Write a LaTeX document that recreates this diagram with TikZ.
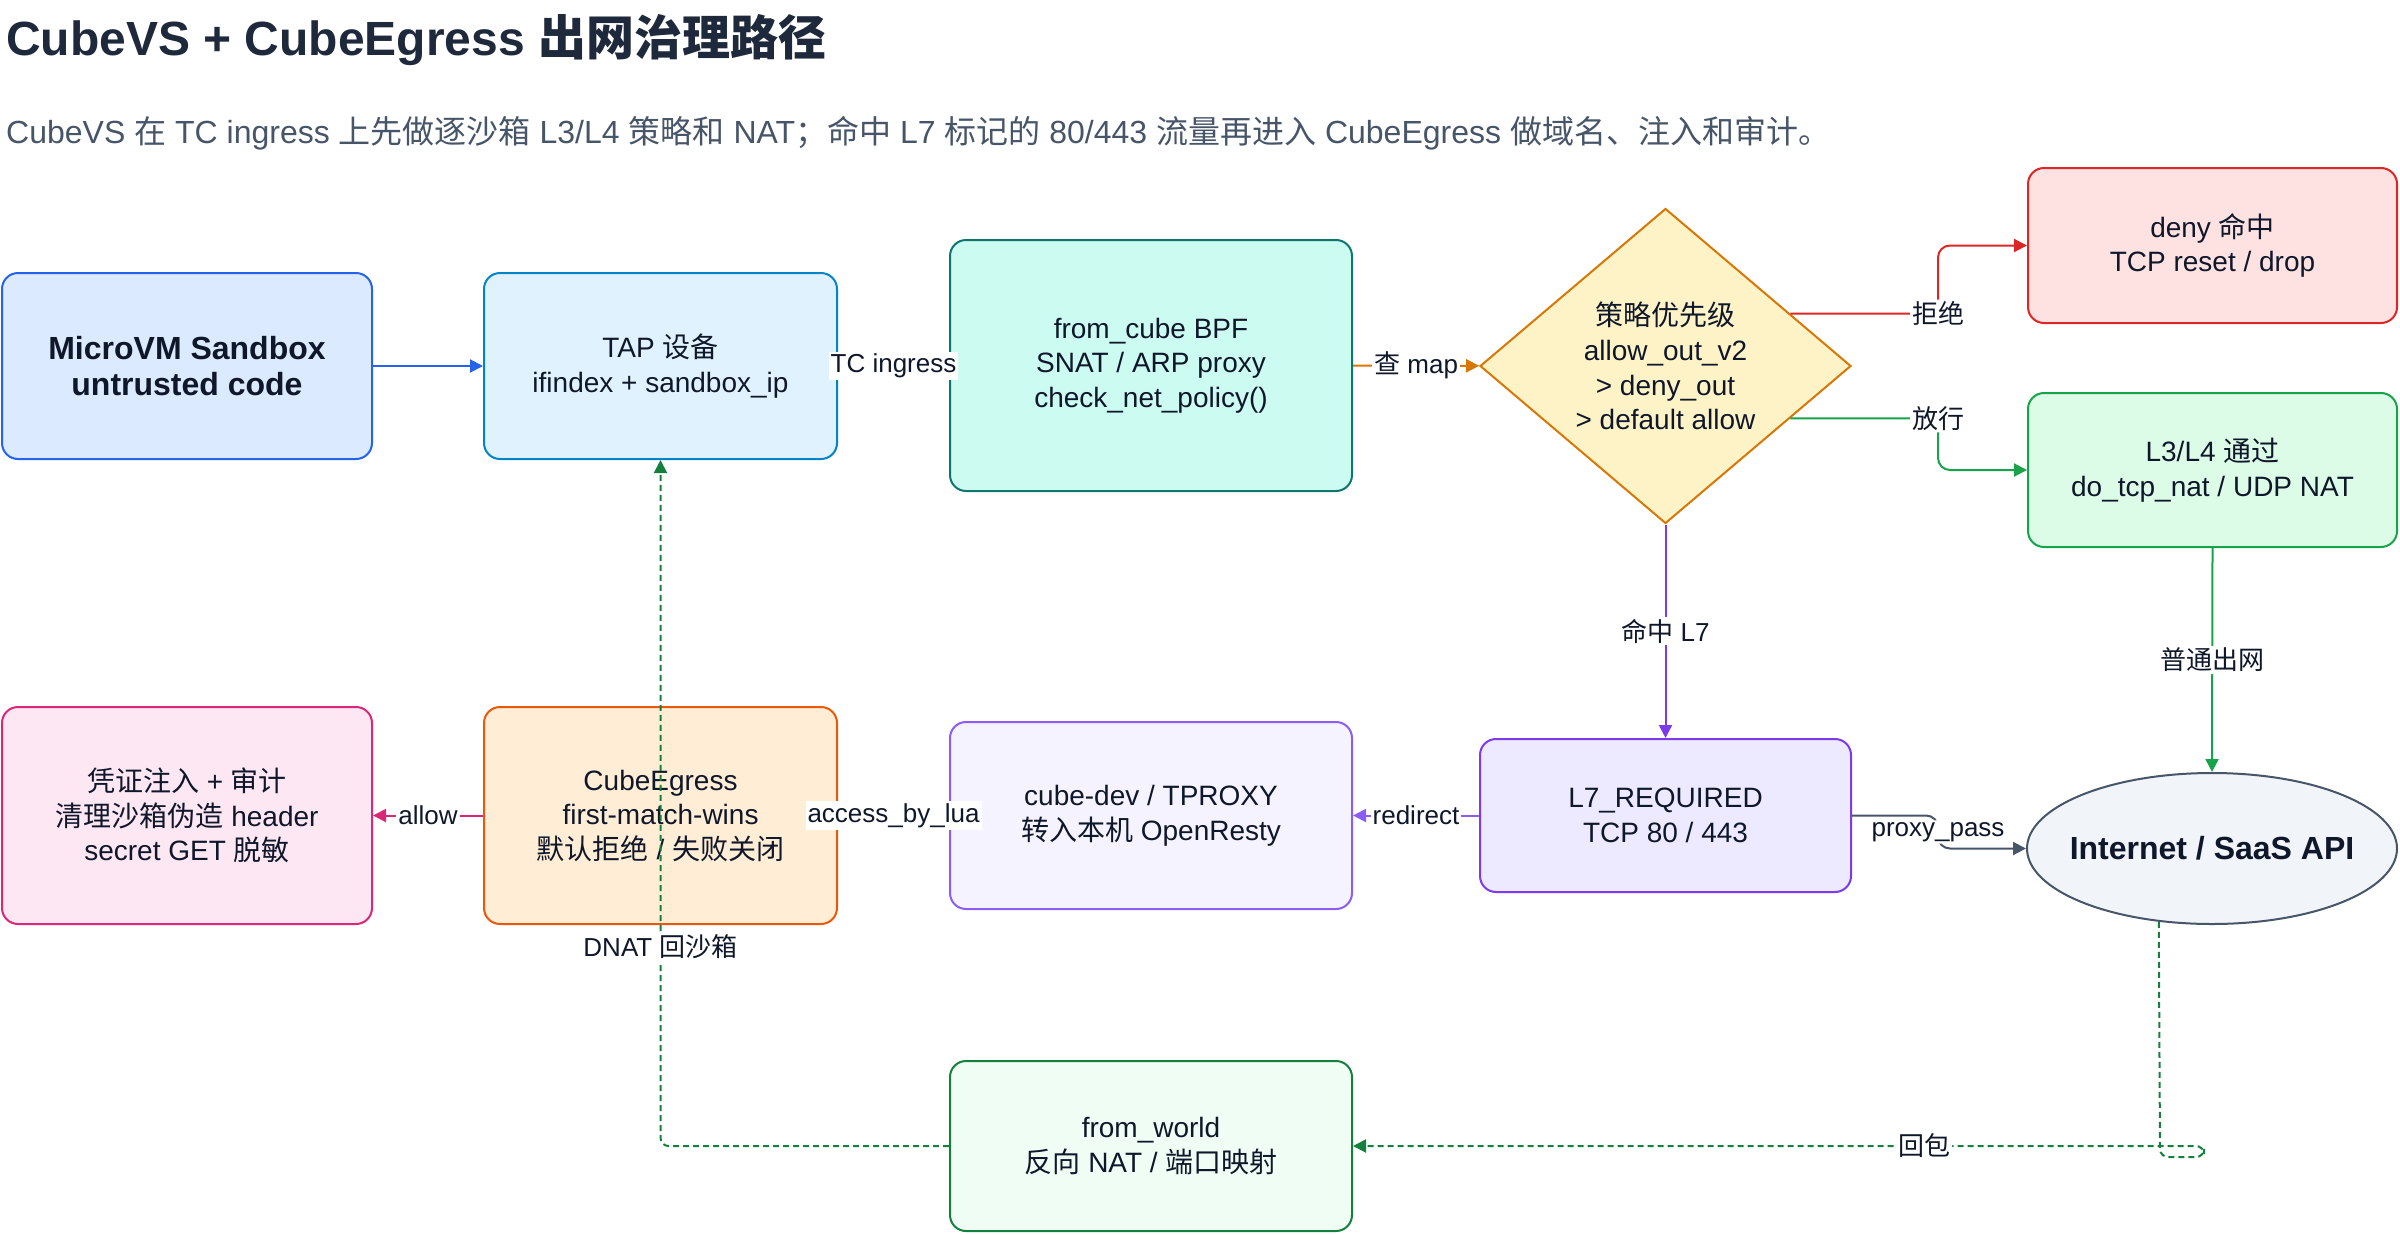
\documentclass[tikz,border=0pt]{standalone}
\usepackage{fontspec}
\setmainfont{Liberation Sans}
\newfontfamily\cjk{Noto Sans CJK SC}
\usetikzlibrary{shapes.geometric,arrows.meta,calc}
\newcommand\zhs[1]{{\cjk #1}}
\definecolor{ink}{HTML}{0F172A}
\definecolor{titlec}{HTML}{1E293B}
\definecolor{subc}{HTML}{475569}
\definecolor{microF}{HTML}{DBEAFE}\definecolor{microS}{HTML}{2563EB}
\definecolor{tapF}{HTML}{E0F2FE}\definecolor{tapS}{HTML}{0284C7}
\definecolor{cubeF}{HTML}{CCFBF1}\definecolor{cubeS}{HTML}{0F766E}
\definecolor{diaF}{HTML}{FEF3C7}\definecolor{diaS}{HTML}{D97706}
\definecolor{denyF}{HTML}{FEE2E2}\definecolor{denyS}{HTML}{DC2626}
\definecolor{passF}{HTML}{DCFCE7}\definecolor{passS}{HTML}{16A34A}
\definecolor{inetF}{HTML}{F1F5F9}\definecolor{inetS}{HTML}{475569}
\definecolor{lsevF}{HTML}{EDE9FE}\definecolor{lsevS}{HTML}{7C3AED}
\definecolor{devF}{HTML}{F5F3FF}\definecolor{devS}{HTML}{8B5CF6}
\definecolor{egF}{HTML}{FFEDD5}\definecolor{egS}{HTML}{EA580C}
\definecolor{credF}{HTML}{FCE7F3}\definecolor{credS}{HTML}{DB2777}
\definecolor{fwF}{HTML}{F0FDF4}\definecolor{fwS}{HTML}{15803D}
\tikzset{
  box/.style={rectangle, rounded corners=16pt, line width=2pt, align=center, text=ink, inner sep=0pt,
    font=\fontsize{28}{34.5}\selectfont},
  boldbox/.style={box, font=\fontsize{32}{36.7}\selectfont\bfseries},
  ed/.style={line width=2pt, -{Triangle[length=13pt,width=13pt]}},
  ret/.style={ed, draw=fwS, dash pattern=on 6pt off 4pt, rounded corners=8pt},
  lbl/.style={fill=white, inner sep=2pt, text=ink, font=\fontsize{26}{30}\selectfont},
}
\begin{document}
\begin{tikzpicture}[x=1pt,y=-1pt]
\useasboundingbox (0,0) rectangle (2400,1234);
% title
\node[anchor=base west, inner sep=0pt, text=titlec, font=\fontsize{48}{56}\selectfont\bfseries] (title) at (6,55)
  {CubeVS + CubeEgress {\cjk\bfseries 出网治理路径}};
\node[anchor=base west, inner sep=0pt, text=subc, font=\fontsize{32}{38}\selectfont] (sub) at (6,143)
  {CubeVS \zhs{在} TC ingress \zhs{上先做逐沙箱} L3/L4 \zhs{策略和} NAT\zhs{；命中} L7 \zhs{标记的} 80/443 \zhs{流量再进入} CubeEgress \zhs{做域名、注入和审计。}};
% nodes
\node[boldbox, fill=microF, draw=microS, minimum width=370, minimum height=186] (micro) at (187,366)
  {MicroVM Sandbox\\untrusted code};
\node[box, fill=tapF, draw=tapS, minimum width=353, minimum height=186] (tap) at (660.5,366)
  {TAP \zhs{设备}\\ifindex + sandbox\_ip};
\node[box, fill=cubeF, draw=cubeS, minimum width=402, minimum height=251] (fromcube) at (1151,365.5)
  {from\_cube BPF\\SNAT / ARP proxy\\check\_net\_policy()};
\node[diamond, shape aspect=1.18, line width=2pt, fill=diaF, draw=diaS, align=center, text=ink, inner sep=0pt,
  minimum width=371, minimum height=315, font=\fontsize{28}{34.7}\selectfont] (dia) at (1665.5,366)
  {\zhs{策略优先级}\\allow\_out\_v2\\> deny\_out\\> default allow};
\node[box, fill=denyF, draw=denyS, minimum width=369, minimum height=155] (deny) at (2212.5,245.5)
  {deny \zhs{命中}\\TCP reset / drop};
\node[box, fill=passF, draw=passS, minimum width=369, minimum height=154] (pass) at (2212.5,470)
  {L3/L4 \zhs{通过}\\do\_tcp\_nat / UDP NAT};
\node[ellipse, line width=2pt, fill=inetF, draw=inetS, text=ink, inner sep=0pt, minimum width=370, minimum height=151,
  font=\fontsize{32}{36.7}\selectfont\bfseries] (inet) at (2212,848.5) {\makebox[0pt]{Internet / SaaS API}};
\node[box, fill=lsevF, draw=lsevS, minimum width=371, minimum height=153] (lsev) at (1665.5,815.5)
  {L7\_REQUIRED\\TCP 80 / 443};
\node[box, fill=devF, draw=devS, minimum width=402, minimum height=187] (dev) at (1151,815.5)
  {cube-dev / TPROXY\\\zhs{转入本机} OpenResty};
\node[box, fill=egF, draw=egS, minimum width=353, minimum height=217] (egress) at (660.5,815.5)
  {CubeEgress\\first-match-wins\\\zhs{默认拒绝} / \zhs{失败关闭}};
\node[box, fill=credF, draw=credS, minimum width=370, minimum height=217] (cred) at (187,815.5)
  {\zhs{凭证注入} + \zhs{审计}\\\zhs{清理沙箱伪造} header\\secret GET \zhs{脱敏}};
\node[box, fill=fwF, draw=fwS, minimum width=402, minimum height=170] (fw) at (1151,1146)
  {from\_world\\\zhs{反向} NAT / \zhs{端口映射}};
% edges
\draw[ed, draw=microS] (micro) -- (tap);
\draw[ed, draw=tapS] (tap) -- node[lbl]{TC ingress} (fromcube);
\draw[ed, draw=diaS] (fromcube) -- node[lbl]{\zhs{查} map} (dia);
\coordinate (dtop) at ($(dia.east)!0.33!(dia.north)$);
\coordinate (dbot) at ($(dia.east)!0.33!(dia.south)$);
\draw[ed, draw=denyS, rounded corners=12pt] (dtop) -| node[lbl, pos=0.5]{\zhs{拒绝}} ($(deny.west)+(-89,0)$) -- (deny.west);
\draw[ed, draw=passS, rounded corners=12pt] (dbot) -| node[lbl, pos=0.5]{\zhs{放行}} ($(pass.west)+(-89,0)$) -- (pass.west);
\draw[ed, draw=lsevS] (dia.south) -- node[lbl]{\zhs{命中} L7} (lsev.north);
\draw[ed, draw=passS] (pass.south) -- node[lbl]{\zhs{普通出网}} (inet.north);
\draw[ed, draw=devS] (lsev.west) -- node[lbl]{redirect} (dev.east);
\draw[ed, draw=devS] (dev.west) -- node[lbl]{access\_by\_lua} (egress.east);
\draw[ed, draw=credS] (egress.west) -- node[lbl]{allow} (cred.east);
\draw[ed, draw=inetS, rounded corners=12pt] (lsev.east) -| node[lbl, pos=0.75]{proxy\_pass} ($(inet.west)+(-88,0)$) -- (inet.west);
\draw[ret] (inet.234) -- (2160,1157) -- (2204,1157) -- (2204,1146) -- node[lbl, pos=0.329]{\zhs{回包}} (fw.east);
\draw[ret] (fw.west) -| node[lbl, pos=0.645]{DNAT \zhs{回沙箱}} (tap.south);
\end{tikzpicture}
\end{document}
